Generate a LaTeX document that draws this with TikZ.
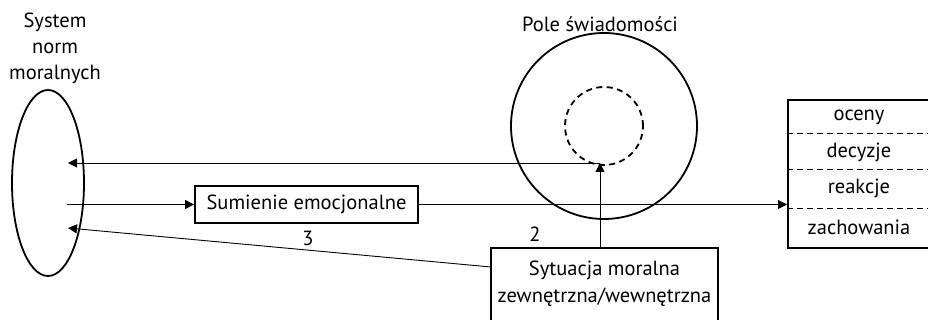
\documentclass[tikz,border=0pt]{standalone}
\usepackage{fontspec}
\setmainfont{PT Sans}
\usetikzlibrary{shapes.geometric,arrows.meta}
\begin{document}
\begin{tikzpicture}[x=1pt,y=-1pt,
  shp/.style={draw,line width=1.8pt},
  conn/.style={line width=0.9pt,-{Triangle[length=9pt,width=9pt]}},
  txt/.style={font=\fontsize{20.5}{26}\selectfont,inner sep=0pt,align=center},
  rowline/.style={line width=0.8pt,dash pattern=on 6pt off 4pt}]
\useasboundingbox (0,0) rectangle (928,320);
% ellipse
\node[shp,ellipse,minimum width=72pt,minimum height=186pt,inner sep=0pt] (ell) at (48,183) {};
\node[txt] (syslab) at (55,48) {System\\norm\\moralnych};
% circles
\node[shp,circle,minimum size=186pt,inner sep=0pt] (big) at (604,126) {};
\node[draw,line width=1.8pt,dash pattern=on 6pt off 4.5pt,circle,minimum size=78pt,inner sep=0pt] (small) at (604,126) {};
\node[txt] (polelab) at (600,24) {Pole świadomości};
% boxes
\node[shp,rectangle,minimum width=223pt,minimum height=37pt,inner sep=0pt] (sum) at (306.5,204.5) {};
\node[txt] (sumtxt) at (sum.center) {Sumienie emocjonalne};
\node[shp,rectangle,minimum width=227pt,minimum height=100pt,inner sep=0pt,anchor=north] (sit) at (604.5,247) {};
\node[txt,font=\fontsize{20.5}{27}\selectfont] (sittxt) at (604.5,283.5) {Sytuacja moralna\\zewnętrzna/wewnętrzna};
\node[shp,rectangle,minimum width=144pt,minimum height=148pt,inner sep=0pt,anchor=north west] (rb) at (787,99) {};
\draw[rowline] (787,133) -- (931,133);
\draw[rowline] (787,169) -- (931,169);
\draw[rowline] (787,208) -- (931,208);
\node[txt] (r1) at (859,117) {oceny};
\node[txt] (r2) at (859,152) {decyzje};
\node[txt] (r3) at (859,188) {reakcje};
\node[txt] (r4) at (859,227) {zachowania};
% coordinates
\coordinate (p) at (600,163);
\coordinate (t1) at (68,163);
\coordinate (s2) at (67,204.5);
\coordinate (t3) at (68,228);
\coordinate (sitw) at (491,267);
% connectors
\draw[conn] (sit.north -| p) -- (p);
\draw[conn] (p) -- (t1);
\draw[conn] (s2) -- (sum.west);
\draw[conn] (sum.east) -- (sum.east -| rb.west);
\draw[conn] (sitw) -- (t3);
\node[txt] (l3) at (308,238) {3};
\node[txt] (l2) at (535,234) {2};
\end{tikzpicture}
\end{document}
